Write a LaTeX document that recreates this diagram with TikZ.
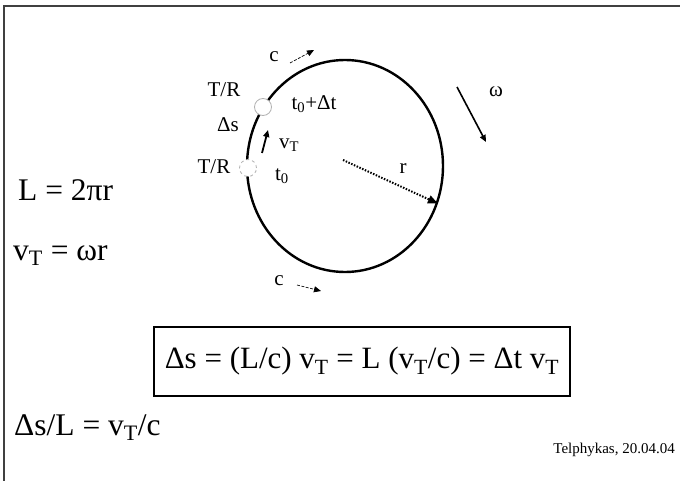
\documentclass[tikz,border=0pt]{standalone}
\usepackage{fontspec}
\setmainfont{Liberation Serif}
\usetikzlibrary{arrows.meta,shapes.geometric}
\begin{document}
\begin{tikzpicture}[x=1pt,y=-1pt,every node/.style={font=\fontsize{21}{24}\selectfont,inner sep=0pt},
  big/.style={font=\fontsize{31.5}{36}\selectfont,anchor=base west},
  trmark/.style={draw=gray!60,fill=white,circle,minimum size=17pt,line width=0.8pt},
  tip/.style={-{Triangle[length=7pt,width=6pt]}}]
\useasboundingbox (0,0) rectangle (680,481);
\draw[line width=1.6pt,black!75] (680,6) -- (4,6) -- (4,481);
% the ring
\node[draw,ellipse,line width=2.4pt,minimum width=196pt,minimum height=212pt] (ring) at (345,166) {};
\node[trmark] (trA) at (263,107) {};
\node[trmark,dashed] (trB) at (248,168) {};
\coordinate (centre) at (343,160);
% labels round the ring
\node (ctop) at (274,57) {c};
\node (trupper) at (224,90) {T/R};
\node (tdelta) at (314,104) {t\textsubscript{0}+Δt};
\node (ds) at (228,125) {Δs};
\node (vT) at (289,145) {v\textsubscript{T}};
\node (trlower) at (214,167) {T/R};
\node (tzero) at (282,176) {t\textsubscript{0}};
\node (rlab) at (403,169) {r};
\node (omega) at (496,92) {ω};
\node (cbot) at (279,281) {c};
% arrows
\coordinate (ca) at (290,63); \coordinate (cb) at (314,50);
\coordinate (cc) at (297,285); \coordinate (cd) at (321,291);
\coordinate (va) at (262,153); \coordinate (vb) at (268,130);
\coordinate (wa) at (457,87); \coordinate (wb) at (486,142);
\draw[tip,line width=0.7pt,dash pattern=on 3pt off 1.5pt] (ca) -- (cb);
\draw[tip,line width=0.7pt,dash pattern=on 3pt off 1.5pt] (cc) -- (cd);
\draw[tip,line width=1.8pt] (va) -- (vb);
\draw[tip,line width=1.6pt] (wa) -- (wb);
\draw[-{Triangle[length=10pt,width=8pt]},line width=2pt,dash pattern=on 1.5pt off 1.5pt] (centre) -- (ring.-22.4);
% formulas
\node[big] (Lcirc) at (18,201) {L = 2πr};
\node[big] (vomega) at (13,260) {v\textsubscript{T} = ωr};
\node[big] (ratio) at (14,435) {Δs/L = v\textsubscript{T}/c};
\node[draw,line width=1.8pt,minimum width=416pt,minimum height=69pt,font=\fontsize{31}{36}\selectfont] (result) at (362,361.5)
  {Δs = (L/c) v\textsubscript{T} = L (v\textsubscript{T}/c) = Δt v\textsubscript{T}};
\node[anchor=east,font=\fontsize{15}{18}\selectfont] (sign) at (675,450) {Telphykas, 20.04.04};
\end{tikzpicture}
\end{document}
